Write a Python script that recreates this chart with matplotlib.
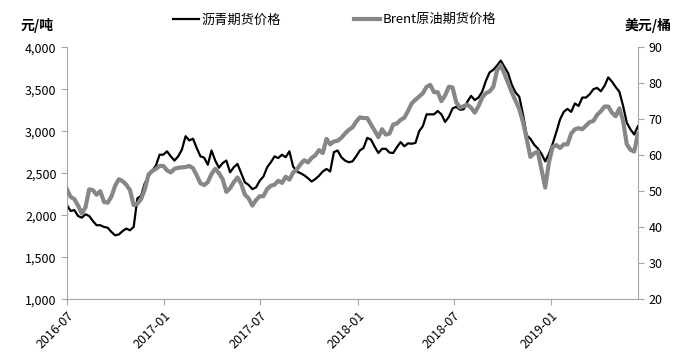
import matplotlib
matplotlib.use('Agg')
import matplotlib.pyplot as plt
import matplotlib.dates as mdates
import matplotlib.ticker as mticker
import pandas as pd

plt.rcParams['font.family'] = ['Noto Sans CJK SC', 'DejaVu Sans']

# weekly samples, starting 2016-07-01
dates = pd.date_range('2016-07-01', periods=155, freq='7D')

# asphalt futures, yuan/ton (left axis)
asphalt = [
    2120, 2050, 2060, 1990, 1970, 2010, 1990, 1930, 1880, 1880,
    1860, 1850, 1800, 1760, 1770, 1810, 1840, 1820, 1860, 2200,
    2230, 2380, 2460, 2530, 2590, 2720, 2720, 2760, 2700, 2650,
    2700, 2780, 2940, 2890, 2910, 2800, 2700, 2685, 2600, 2770,
    2650, 2565, 2620, 2650, 2510, 2570, 2610, 2500, 2390, 2360,
    2310, 2330, 2410, 2460, 2570, 2630, 2700, 2680, 2720, 2690,
    2760, 2580, 2520, 2500, 2475, 2440, 2400, 2430, 2470, 2520,
    2550, 2520, 2750, 2770, 2690, 2650, 2630, 2640, 2700, 2770,
    2800, 2920, 2900, 2815, 2740, 2790, 2790, 2745, 2740, 2810,
    2870, 2820, 2855, 2850, 2860, 3000, 3060, 3200, 3200, 3200,
    3240, 3200, 3110, 3170, 3270, 3290, 3255, 3260, 3350, 3420,
    3370, 3400, 3470, 3600, 3700, 3730, 3780, 3840, 3765, 3690,
    3550, 3460, 3410, 3200, 2950, 2910, 2840, 2794, 2730, 2640,
    2730, 2850, 2990, 3140, 3230, 3265, 3230, 3330, 3300, 3400,
    3400, 3440, 3500, 3515, 3475, 3540, 3640, 3590, 3525, 3470,
    3300, 3100, 3020, 2960, 3060,
]

# Brent crude futures, USD/barrel (right axis)
brent = [
    50.5, 48.4, 47.8, 46.0, 43.8, 45.5, 50.5, 50.3, 49.0, 50.0,
    47.0, 46.8, 48.5, 51.5, 53.3, 52.8, 51.8, 50.3, 46.1, 46.5,
    47.8, 50.5, 54.6, 55.6, 56.2, 57.0, 57.0, 55.8, 55.2, 56.2,
    56.5, 56.6, 56.7, 57.0, 56.4, 54.4, 52.2, 51.7, 52.5, 54.8,
    56.2, 55.0, 53.3, 49.8, 50.8, 52.5, 53.8, 52.0, 49.0, 48.0,
    46.0, 47.5, 48.6, 48.6, 50.6, 51.5, 51.8, 52.9, 52.3, 54.0,
    53.2, 55.2, 56.0, 57.5, 58.6, 58.0, 59.2, 60.0, 61.4, 60.6,
    64.5, 63.0, 63.8, 64.0, 64.8, 66.0, 67.0, 67.7, 69.3, 70.5,
    70.3, 70.3, 68.5, 66.8, 65.0, 67.2, 65.7, 66.0, 68.5, 68.8,
    69.8, 70.4, 72.3, 74.4, 75.4, 76.3, 77.2, 79.0, 79.5, 77.5,
    77.5, 75.0, 76.6, 79.0, 78.8, 74.7, 73.2, 73.6, 74.0, 73.2,
    71.8, 73.6, 76.0, 77.2, 77.7, 79.0, 83.5, 85.0, 82.6, 80.0,
    77.4, 75.1, 72.8, 69.2, 64.5, 59.5, 60.5, 61.0, 56.0, 51.0,
    58.0, 62.3, 62.8, 62.0, 63.0, 63.0, 66.0, 67.2, 67.5, 67.2,
    68.2, 69.2, 69.5, 71.2, 72.2, 73.5, 73.5, 71.8, 70.8, 73.0,
    69.5, 63.0, 61.5, 61.0, 66.0,
]

tick_dates = pd.to_datetime(['2016-07-01', '2017-01-01', '2017-07-01',
                             '2018-01-01', '2018-07-01', '2019-01-01'])

axis_grey = '#a6a6a6'
line_grey = '#878787'

fig = plt.figure(figsize=(6.83, 3.6), dpi=100)
ax = fig.add_axes([0.098, 0.169, 0.836, 0.700])
ax2 = ax.twinx()

l1, = ax.plot(dates, asphalt, color='black', lw=1.6, label='沥青期货价格')
l2, = ax2.plot(dates, brent, color=line_grey, lw=3.0, label='Brent原油期货价格')

ax.set_ylim(1000, 4000)
ax.set_yticks(range(1000, 4001, 500))
ax.yaxis.set_major_formatter(mticker.FuncFormatter(lambda v, p: f'{int(v):,}'))
ax2.set_ylim(20, 90)
ax2.set_yticks(range(20, 91, 10))

ax.set_xlim(dates[0], dates[-1])
ax.set_xticks(tick_dates)
ax.xaxis.set_major_formatter(mdates.DateFormatter('%Y-%m'))
for lab in ax.get_xticklabels():
    lab.set_rotation(45)
    lab.set_ha('right')
    lab.set_rotation_mode('anchor')

for a in (ax, ax2):
    a.spines['top'].set_visible(False)
    for s in ('left', 'right', 'bottom'):
        a.spines[s].set_color(axis_grey)
    a.tick_params(colors=axis_grey, labelcolor='black', labelsize=9,
                  length=4, direction='out')
ax.spines['right'].set_visible(False)
ax2.spines['left'].set_visible(False)
ax2.spines['bottom'].set_visible(False)

fig.text(0.03, 0.93, '元/吨', fontsize=10, fontweight='bold', va='center')
fig.text(0.915, 0.93, '美元/桶', fontsize=10, fontweight='bold', va='center')

fig.legend(handles=[l1, l2], loc='center', bbox_to_anchor=(0.49, 0.945),
           ncol=2, frameon=False, fontsize=9.5, handlelength=2.0,
           handletextpad=0.2, columnspacing=5.5)

fig.savefig('out.png', dpi=100)
